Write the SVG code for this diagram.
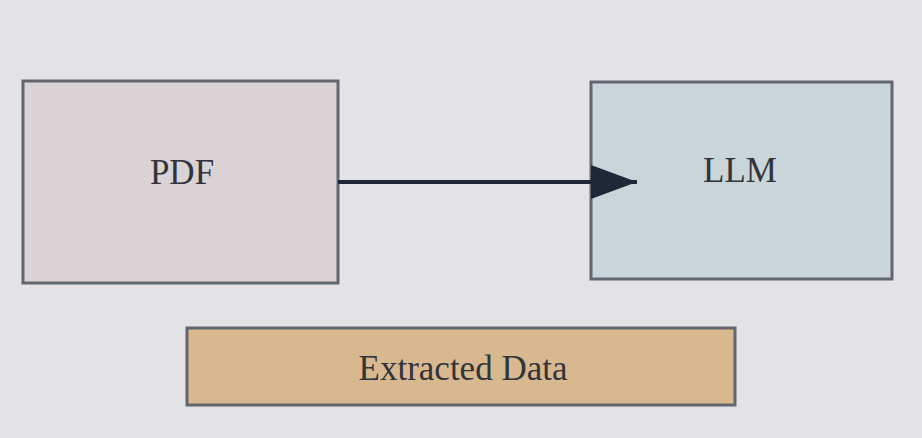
<svg xmlns="http://www.w3.org/2000/svg" width="922" height="438" viewBox="0 0 922 438">
  <style>
    .box { stroke: #616670; stroke-width: 3; }
    .label { font-family: "Liberation Serif", "Times New Roman", serif; font-size: 35px; fill: #33343a; text-anchor: middle; }
    .edge { stroke: #1f2838; stroke-width: 4; fill: none; }
  </style>
  <defs>
    <marker id="arrow" markerUnits="userSpaceOnUse" markerWidth="46" markerHeight="34" refX="46" refY="17" orient="auto">
      <path d="M0,0 L46,17 L0,34 Z" fill="#1f2838"/>
    </marker>
  </defs>
  <rect width="922" height="438" fill="#e3e2e4"/>
  <g id="node-pdf">
    <rect class="box" x="23" y="81" width="315" height="202" fill="#d9d3d5"/>
    <text class="label" x="182" y="184">PDF</text>
  </g>
  <g id="node-llm">
    <rect class="box" x="591" y="82" width="301" height="197" fill="#cad5d9"/>
    <text class="label" x="740" y="182">LLM</text>
  </g>
  <g id="node-extracted">
    <rect class="box" x="187" y="328" width="548" height="77" fill="#d8b98f"/>
    <text class="label" x="463" y="380">Extracted Data</text>
  </g>
  <g id="connectors">
    <path class="edge" d="M338,182 L637,182" marker-end="url(#arrow)"/>
  </g>
</svg>
